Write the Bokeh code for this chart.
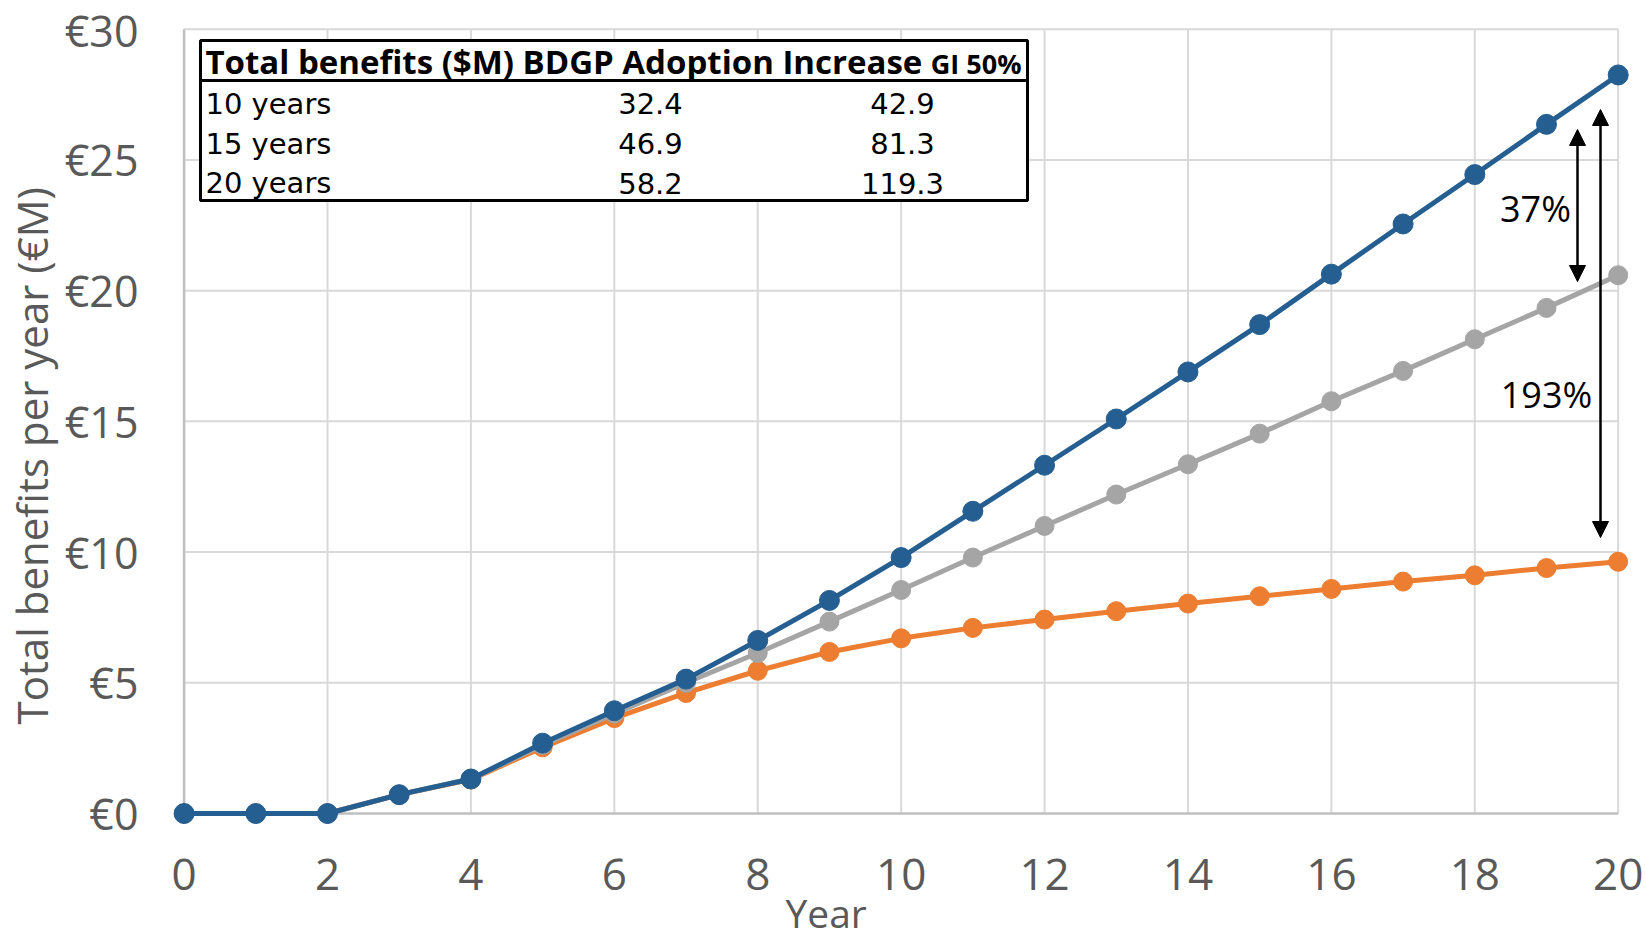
from bokeh.plotting import figure
from bokeh.models import Range1d, FixedTicker, Label, Arrow, NormalHead, Title
from bokeh.core.properties import value
from bokeh.embed import file_html
from bokeh.resources import INLINE

# ---------------- data ----------------
years = list(range(0, 21))
blue_series = [0, 0, 0, 0.72, 1.32, 2.69, 3.93, 5.14, 6.62, 8.15, 9.79, 11.56, 13.32,
               15.09, 16.89, 18.70, 20.63, 22.55, 24.44, 26.36, 28.25]
gray_series = [0, 0, 0, 0.72, 1.32, 2.62, 3.82, 5.0, 6.14, 7.34, 8.55, 9.79, 11.0,
               12.2, 13.36, 14.53, 15.77, 16.93, 18.14, 19.34, 20.59]
orange_series = [0, 0, 0, 0.72, 1.30, 2.53, 3.65, 4.61, 5.46, 6.18, 6.70, 7.10, 7.42,
                 7.74, 8.03, 8.31, 8.59, 8.87, 9.11, 9.39, 9.63]

x_ticks = [0, 2, 4, 6, 8, 10, 12, 14, 16, 18, 20]
x_tick_labels = ["0", "2", "4", "6", "8", "10", "12", "14", "16", "18", "20"]
y_ticks = [0, 5, 10, 15, 20, 25, 30]
y_tick_labels = ["€0", "€5", "€10", "€15", "€20", "€25", "€30"]

table_header = "Total benefits ($M) BDGP Adoption Increase"
table_header_small = "GI 50%"
table_rows = ["10 years", "15 years", "20 years"]
bdgp_adoption = [32.4, 46.9, 58.2]
increase_gi50 = [42.9, 81.3, 119.3]

pct_labels = ["37%", "193%"]

x_title = "Year"
y_title = "Total benefits per year (€M)"

# ---------------- layout helpers (page pixels -> data) ----------------
X0_PX, X20_PX = 183.6, 1617.7
Y0_PX, Y30_PX = 813.0, 28.7
PX_X = (X20_PX - X0_PX) / 20.0
PX_Y = (Y0_PX - Y30_PX) / 30.0


def dx(px):
    return (px - X0_PX) / PX_X


def dy(py):
    return (Y0_PX - py) / PX_Y


W, H = 1645, 940
B_LEFT, B_RIGHT, B_TOP, B_BOTTOM = 172, 0, 27, 0

p = figure(width=W, height=H, output_backend="svg", toolbar_location=None,
           title=None,
           x_range=Range1d(dx(B_LEFT), dx(W - B_RIGHT)),
           y_range=Range1d(dy(H - B_BOTTOM), dy(B_TOP)),
           min_border_left=B_LEFT, min_border_right=B_RIGHT,
           min_border_top=B_TOP, min_border_bottom=B_BOTTOM)
p.outline_line_color = None
p.background_fill_color = "white"
p.border_fill_color = "white"
p.xgrid.grid_line_color = None
p.ygrid.grid_line_color = None
p.xaxis.visible = False

AX_COLOR = "#595959"
yax = p.yaxis[0]
yax.axis_line_color = None
yax.major_tick_line_color = None
yax.minor_tick_line_color = None
yax.major_tick_out = 0
yax.major_tick_in = 0
yax.minor_tick_out = 0
yax.major_label_text_font = "Open Sans"
yax.major_label_text_font_size = "43px"
yax.major_label_text_color = AX_COLOR
yax.ticker = FixedTicker(ticks=y_ticks)
yax.major_label_overrides = {t: l for t, l in zip(y_ticks, y_tick_labels)}
yax.major_label_standoff = 34

p.add_layout(Title(text=y_title, align="left", offset=H - 724, standoff=2,
                   text_font="Open Sans", text_font_size="42px",
                   text_font_style="normal", text_color=AX_COLOR,
                   vertical_align="middle"), "left")

# gridlines (bounded to data area)
GRID = "#d9d9d9"
hy = [t for t in y_ticks if t > 0]
p.segment(x0=[x_ticks[0]] * len(hy), x1=[x_ticks[-1]] * len(hy), y0=hy, y1=hy,
          line_color=GRID, line_width=2)
vx = [t for t in x_ticks if t > 0]
p.segment(x0=vx, x1=vx, y0=[y_ticks[0]] * len(vx), y1=[y_ticks[-1]] * len(vx),
          line_color=GRID, line_width=2)
# axis lines
p.segment(x0=[x_ticks[0], x_ticks[0]], x1=[x_ticks[-1], x_ticks[0]],
          y0=[y_ticks[0], y_ticks[0]], y1=[y_ticks[0], y_ticks[-1]],
          line_color="#bfbfbf", line_width=2.5)

# x tick labels and x title (placed on the x scale below the axis line)
p.text(x=x_ticks, y=[dy(874)] * len(x_ticks), text=x_tick_labels,
       text_font=value("Open Sans"), text_font_size="44px", text_color=AX_COLOR,
       text_align="center", text_baseline="middle")
p.text(x=[dx(825.6)], y=[dy(912)], text=[x_title],
       text_font=value("Open Sans"), text_font_size="39px", text_color=AX_COLOR,
       text_align="center", text_baseline="middle")

# series
ORANGE, GRAY, BLUE = "#ED7D31", "#A5A5A5", "#255E91"
p.line(years, orange_series, line_color=ORANGE, line_width=5)
p.scatter(years, orange_series, size=19, fill_color=ORANGE, line_color=ORANGE)
p.line(years, gray_series, line_color=GRAY, line_width=5)
p.scatter(years, gray_series, size=19, fill_color=GRAY, line_color=GRAY)
p.line(years, blue_series, line_color=BLUE, line_width=5)
p.scatter(years, blue_series, size=20, fill_color=BLUE, line_color=BLUE)

# table box
p.quad(left=[dx(200)], right=[dx(1027)], top=[dy(40)], bottom=[dy(200)],
       fill_color="white", line_color="black", line_width=3)
p.segment(x0=[dx(200)], x1=[dx(1027)], y0=[dy(80)], y1=[dy(80)],
          line_color="black", line_width=3)

p.text(x=[dx(205)], y=[dy(61)], text=[table_header],
       text_font=value("Open Sans"), text_font_style="bold",
       text_font_size="33px", text_color="black",
       text_align="left", text_baseline="middle")
p.text(x=[dx(1021)], y=[dy(63)], text=[table_header_small],
       text_font=value("Open Sans"), text_font_style="bold",
       text_font_size="27px", text_color="black",
       text_align="right", text_baseline="middle")

row_centers = [dy(103), dy(143), dy(182.5)]
common = dict(text_font=value("DejaVu Sans"), text_font_size="29px",
              text_color="black", text_baseline="middle")
p.text(x=[dx(205)] * 3, y=row_centers, text=table_rows, text_align="left", **common)
p.text(x=[dx(650)] * 3, y=row_centers, text=[f"{v:.1f}" for v in bdgp_adoption],
       text_align="center", **common)
p.text(x=[dx(902)] * 3, y=row_centers, text=[f"{v:.1f}" for v in increase_gi50],
       text_align="center", **common)

# arrows with percentages
head = dict(size=16, fill_color="black", line_color="black")
p.add_layout(Arrow(x_start=dx(1577), x_end=dx(1577), y_start=dy(281), y_end=dy(129),
                   line_color="black", line_width=2.5,
                   start=NormalHead(**head), end=NormalHead(**head)))
p.add_layout(Arrow(x_start=dx(1600), x_end=dx(1600), y_start=dy(537), y_end=dy(109),
                   line_color="black", line_width=2.5,
                   start=NormalHead(**head), end=NormalHead(**head)))
p.add_layout(Label(x=dx(1535), y=dy(208), text=pct_labels[0], text_font="Open Sans",
                   text_font_size="36px", text_color="black",
                   text_align="center", text_baseline="middle"))
p.add_layout(Label(x=dx(1546), y=dy(394), text=pct_labels[1], text_font="Open Sans",
                   text_font_size="36px", text_color="black",
                   text_align="center", text_baseline="middle"))

open("out.html", "w").write(file_html(p, INLINE))
